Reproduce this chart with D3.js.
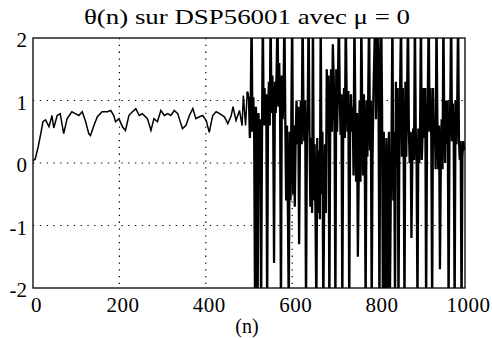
<!DOCTYPE html>
<html>
<head>
<meta charset="utf-8">
<script src="https://cdn.jsdelivr.net/npm/d3@7"></script>
<style>
  body { margin: 0; background: #fff; }
  svg text { font-family: 'Liberation Serif', 'Times New Roman', serif; fill: #000; }
</style>
</head>
<body>
<svg id="chart" width="492" height="338"></svg>
<script>
// converging part: sample index and theta values
const n1 = [0, 5, 12, 18, 23, 29, 37, 44, 48, 56, 63, 71, 79, 90, 98, 106, 114, 122, 129, 133,
  141, 149, 160, 172, 180, 187, 191, 199, 207, 214, 222, 230, 238, 246, 253, 265, 273, 280, 288, 296,
  304, 312, 319, 327, 335, 346, 354, 362, 370, 377, 385, 393, 401, 408, 416, 424, 432, 443, 451, 459,
  463, 470, 478, 484, 487, 492, 496];
const theta1 = [0.04, 0.06, 0.26, 0.47, 0.66, 0.69, 0.58, 0.76, 0.56, 0.76, 0.79, 0.47, 0.71, 0.82, 0.79, 0.76, 0.82, 0.66, 0.47, 0.44,
  0.60, 0.74, 0.82, 0.82, 0.84, 0.76, 0.66, 0.71, 0.58, 0.52, 0.76, 0.82, 0.87, 0.76, 0.79, 0.71, 0.52, 0.71, 0.66, 0.84,
  0.76, 0.79, 0.76, 0.84, 0.79, 0.55, 0.60, 0.76, 0.87, 0.71, 0.74, 0.76, 0.68, 0.49, 0.76, 0.82, 0.79, 0.74, 0.63, 0.76,
  0.90, 0.68, 0.84, 0.60, 1.08, 0.60, 1.14];

// diverging part, every 2nd sample from n = 500 (values beyond +-2 are clipped by the frame)
const n2Start = 500, n2Step = 2;
const theta2 = [
  1.0, 0.4, 0.9, 2.4, 0.5, 1.05, 0.4, -2.4, 0.9, 0.45,
  -2.4, 0.8, 0.2, 0.7, -2.4, 0.3, 2.4, 0.6,
  1.2, 0.6, 1.1, -2.4, 0.7, 1.3, 0.6, 2.4, 0.8, 1.4, 0.7, -1.6, 1.3, 0.8, 1.5, 2.4, 0.9, 1.6, 0.8, -2.4, 1.4, 0.7, 1.2, 2.4,
  0.7, -0.6, 0.6, -0.7, -2.4, 0.5, -0.6, 0.7, 2.4, -0.5, 0.6, -0.7, 0.4,
  1.0, 0.3, 0.9, -1.3, 0.4, 1.0, 0.3, 2.4, 0.9, 0.35, 1.0, -2.4, 0.4, 0.9, 2.4,
  0.5, -0.7, 0.4, -0.8, 2.4, -0.6, 0.3, -0.9, -2.4, 0.4, -0.8, 0.2, -0.9, 2.4, -0.5, 0.5, -2.4, -0.7, 0.3, -0.8,
  1.5, 0.5, 1.4, -2.4, 0.6, 1.5, 0.5, 1.9, 1.4, 0.6, -2.4, 1.5, 0.5, 1.3, 2.4,
  1.15, 0.45, 1.1, -2.4, 0.5, 1.2, 0.4, 2.4, 1.1, 0.5, 1.15, -2.4, 0.45, 1.1, 0.5,
  0.9, -0.2, 2.4, 0.9, -0.3, 0.8, -1.5, -0.2, 1.0, -0.3, 2.4, 0.9, -0.2,
  1.1, 0.1, -2.4, 1.0, 0.1, 1.1, 2.4, 0.2, 1.0, -2.4, 0.1, 1.1,
  1.7, 2.4, 0.7, 1.8, 2.4, 0.8, -2.4, 1.7, 2.4, 0.9,
  -2.4, 0.5, -0.7, -2.4, 0.4, -2.4, -0.6, 0.5, -2.4, -0.7, 0.4, 2.4, -0.6, 0.5, -2.4,
  1.3, 0.1, 1.2, -2.4, 0.2, 1.3, 2.4, 0.1, 1.2, 0.2, -2.4, 1.3, 0.1, 1.1, 2.4,
  0.55, 0.0, 0.5, -1.2, 0.0, 0.55, 0.05, 2.4, 0.5, 0.0, -2.4, 0.55, 0.0, 0.5, 2.4, 0.05, 0.5,
  1.2, 0.4, 1.2, -2.4, 0.4, 1.1, 2.4, 0.5, 1.2, 0.4, -2.4, 1.2, 0.4,
  0.7, -0.1, 2.4, 0.7, -0.1, 0.6, -1.7, 0.0, 0.7, -0.1, 2.4, 0.6, 0.0,
  1.0, 0.3, 1.0, -2.4, 0.3, 1.0, 2.4, 0.35, 0.95, 0.3, -2.4, 1.0, 0.3, 0.9, 2.4,
  0.35, 0.05, 0.35, -2.4, 0.1, 0.35, 0.2
];

const xTicks = [0, 200, 400, 600, 800, 1000];
const yTicks = [-2, -1, 0, 1, 2];
const titleText = "θ(n) sur DSP56001 avec μ = 0";
const xLabel = "(n)";

const SERIF = "'Liberation Serif', 'Times New Roman', serif";
const box = { left: 33, right: 465, top: 38, bottom: 288 };
const svg = d3.select("#chart");

const x = d3.scaleLinear().domain([0, 1000]).range([box.left, box.right]);
const y = d3.scaleLinear().domain([-2, 2]).range([box.bottom, box.top]);

const calm = n1.map((n, i) => ({ n, v: theta1[i] }));
const wild = theta2.map((v, i) => ({ n: n2Start + i * n2Step, v }));

svg.append("defs").append("clipPath").attr("id", "clip")
  .append("rect").attr("x", box.left).attr("y", box.top)
  .attr("width", box.right - box.left).attr("height", box.bottom - box.top);

// dotted grid
const grid = svg.append("g").attr("stroke", "#000").attr("stroke-width", 1.2)
  .attr("stroke-dasharray", "1.3,5.5");
grid.selectAll("line.gx").data(xTicks.slice(1, -1)).join("line")
  .attr("x1", d => x(d)).attr("x2", d => x(d)).attr("y1", box.top).attr("y2", box.bottom);
grid.selectAll("line.gy").data(yTicks.slice(1, -1)).join("line")
  .attr("x1", box.left).attr("x2", box.right).attr("y1", d => y(d)).attr("y2", d => y(d));

// signal: thin before n = 500, heavier strokes once it diverges
const line = d3.line().x(d => x(d.n)).y(d => y(d.v));
svg.append("path").datum(calm.concat(wild.slice(0, 1)))
  .attr("clip-path", "url(#clip)")
  .attr("fill", "none").attr("stroke", "#000").attr("stroke-width", 1.5)
  .attr("d", line);
svg.append("path").datum(calm.slice(-1).concat(wild))
  .attr("clip-path", "url(#clip)")
  .attr("fill", "none").attr("stroke", "#000").attr("stroke-width", 2.3)
  .attr("stroke-linejoin", "miter").attr("stroke-miterlimit", 2)
  .attr("d", line);

// frame
svg.append("rect").attr("x", box.left).attr("y", box.top)
  .attr("width", box.right - box.left).attr("height", box.bottom - box.top)
  .attr("fill", "none").attr("stroke", "#000").attr("stroke-width", 1.3);

// axes (labels only, no tick marks)
const xAxis = d3.axisBottom(x).tickValues(xTicks).tickSize(0).tickPadding(9).tickFormat(d => String(d));
svg.append("g").attr("transform", `translate(3,${box.bottom})`).call(xAxis)
  .attr("font-family", SERIF).attr("font-size", 21)
  .call(g => g.select(".domain").remove())
  .call(g => g.selectAll("text").attr("letter-spacing", 0.5));

const yAxis = d3.axisLeft(y).tickValues(yTicks).tickSize(0).tickPadding(6).tickFormat(d => String(d));
svg.append("g").attr("transform", `translate(${box.left},2)`).call(yAxis)
  .attr("font-family", SERIF).attr("font-size", 21)
  .call(g => g.select(".domain").remove());

svg.append("text").attr("x", 247).attr("y", 24).attr("text-anchor", "middle")
  .attr("font-family", SERIF).attr("font-size", 22)
  .attr("textLength", 326).attr("lengthAdjust", "spacingAndGlyphs")
  .text(titleText);

svg.append("text").attr("x", 247).attr("y", 333).attr("text-anchor", "middle")
  .attr("font-family", SERIF).attr("font-size", 20).text(xLabel);
</script>
</body>
</html>
